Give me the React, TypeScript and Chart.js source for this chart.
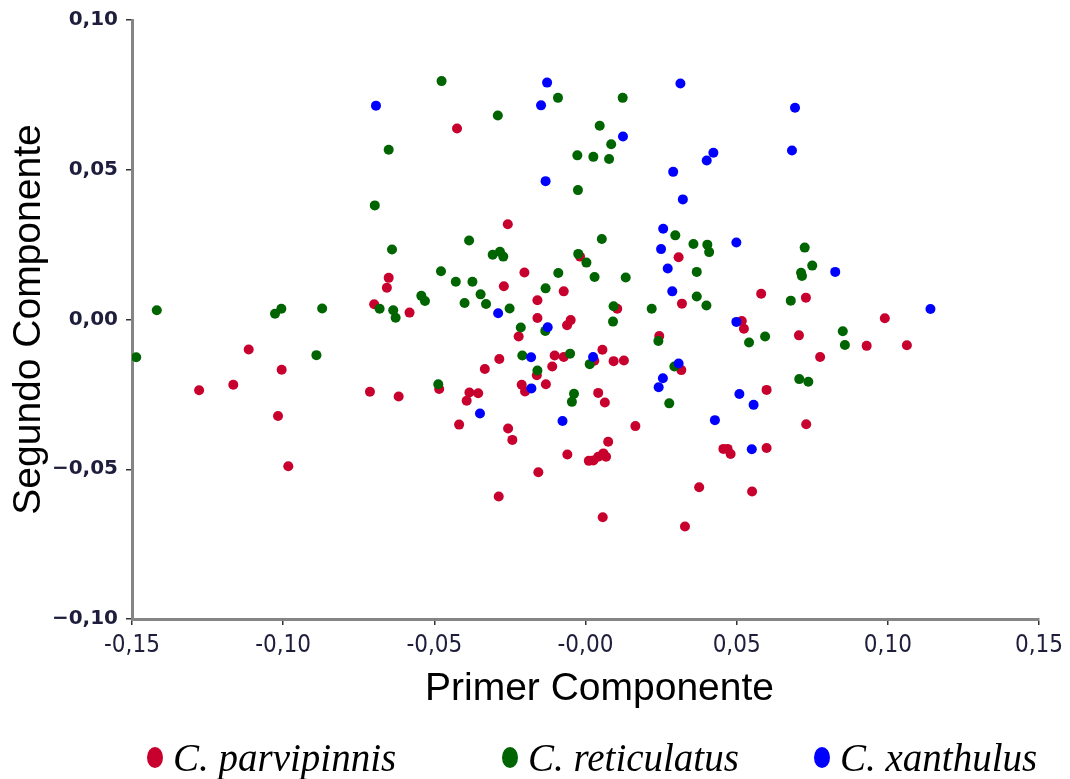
import React, { useEffect, useRef } from 'react';
import { Chart, registerables } from 'chart.js';

Chart.register(...registerables);

// Species shown in the PCA scatter
const seriesNames = ['C. parvipinnis', 'C. reticulatus', 'C. xanthulus'];
const seriesColors = ['#c8002d', '#006400', '#0000ff'];

// [Primer Componente, Segundo Componente] scores per specimen
const parvipinnis: [number, number][] = [
  [-0.0425, 0.0638], [-0.0257, 0.0318], [-0.0202, 0.0157], [-0.0651, 0.0139],
  [-0.0657, 0.0106], [-0.027, 0.0111], [-0.0072, 0.0094], [0.0308, 0.0208],
  [-0.0018, 0.021], [-0.0699, 0.0051], [-0.0582, 0.0023], [-0.0159, 0.0064],
  [0.0319, 0.0053], [0.0105, 0.0036], [0.0581, 0.0086], [0.0729, 0.0073],
  [0.099, 0.0004], [0.0517, -0.0005], [0.0524, -0.0031], [-0.0159, 0.0005],
  [-0.0049, -0.0002], [-0.0061, -0.0019], [-0.0221, -0.0057], [0.0244, -0.0055],
  [0.0706, -0.0053], [-0.1114, -0.01], [0.093, -0.0088], [0.1063, -0.0086],
  [0.0776, -0.0125], [0.0056, -0.0101], [-0.0285, -0.0132], [-0.0102, -0.012],
  [-0.0072, -0.0125], [0.0029, -0.0138], [0.0093, -0.0139], [0.0127, -0.0137],
  [-0.0333, -0.0165], [-0.011, -0.0157], [-0.0161, -0.0186], [0.0317, -0.0169],
  [-0.1005, -0.0168], [-0.0484, -0.0232], [-0.0211, -0.0218], [-0.02, -0.024],
  [-0.0131, -0.0216], [-0.0384, -0.0244], [-0.0393, -0.0271], [-0.0355, -0.0246],
  [0.0042, -0.0245], [0.0064, -0.0277], [-0.1278, -0.0236], [-0.1165, -0.0218],
  [-0.0713, -0.0241], [-0.0618, -0.0257], [0.0599, -0.0235], [-0.1017, -0.0322],
  [-0.0418, -0.0351], [-0.0256, -0.0364], [-0.0242, -0.0402], [0.0165, -0.0356],
  [0.073, -0.035], [0.0075, -0.0408], [-0.006, -0.0451], [0.0011, -0.0472],
  [0.0026, -0.0471], [0.0042, -0.0458], [0.0059, -0.0447], [0.0068, -0.0458],
  [-0.0156, -0.051], [-0.0287, -0.0591], [0.0057, -0.066], [0.0376, -0.056],
  [0.0329, -0.0691], [0.0456, -0.0432], [0.047, -0.0432], [0.048, -0.0449],
  [0.0599, -0.0429], [0.0551, -0.0574], [-0.0983, -0.049],
];

const reticulatus: [number, number][] = [
  [-0.0476, 0.0796], [-0.0091, 0.074], [0.0123, 0.074], [-0.029, 0.0681],
  [0.0047, 0.0647], [0.0085, 0.0585], [-0.0027, 0.0548], [0.0026, 0.0543],
  [0.0078, 0.0536], [-0.0025, 0.0432], [-0.0651, 0.0567], [-0.0697, 0.0381],
  [-0.064, 0.0234], [-0.0478, 0.0161], [-0.0385, 0.0264], [0.0054, 0.0269],
  [0.0297, 0.0281], [0.0357, 0.0252], [0.0403, 0.025], [0.0409, 0.0225],
  [-0.0307, 0.0216], [-0.0283, 0.0226], [-0.0272, 0.021], [-0.0024, 0.0219],
  [0.0003, 0.019], [0.0368, 0.0159], [-0.009, 0.0155], [-0.0429, 0.0126],
  [-0.0374, 0.0126], [0.003, 0.0142], [0.0133, 0.014], [-0.0132, 0.0104],
  [-0.0347, 0.0084], [-0.04, 0.0055], [-0.0329, 0.0052], [0.0368, 0.0077],
  [0.04, 0.0047], [-0.0251, 0.0037], [0.0093, 0.0044], [0.0219, 0.0036],
  [0.0091, -0.0007], [-0.0214, -0.0027], [-0.0133, -0.0038], [0.0241, -0.0072],
  [-0.0209, -0.012], [-0.0051, -0.0114], [0.0014, -0.0149], [-0.0159, -0.017],
  [0.0294, -0.0157], [-0.0487, -0.0216], [-0.0038, -0.0248], [-0.0045, -0.0275],
  [0.0277, -0.028], [-0.1418, 0.0031], [-0.1486, -0.0126], [-0.1027, 0.0019],
  [-0.1006, 0.0036], [-0.0871, 0.0037], [-0.089, -0.0119], [-0.0681, 0.0036],
  [-0.0636, 0.0031], [-0.0628, 0.0006], [-0.0543, 0.0079], [-0.0531, 0.0062],
  [0.0725, 0.024], [0.075, 0.018], [0.0713, 0.0156], [0.0716, 0.0145],
  [0.0679, 0.0063], [0.0541, -0.0077], [0.0594, -0.0057], [0.0851, -0.0039],
  [0.0858, -0.0085], [0.0707, -0.0199], [0.0737, -0.0208],
];

const xanthulus: [number, number][] = [
  [-0.0693, 0.0714], [-0.0127, 0.0791], [-0.0147, 0.0715], [0.0124, 0.0611],
  [0.0314, 0.0788], [0.0423, 0.0557], [0.0401, 0.0531], [0.029, 0.0493],
  [-0.0132, 0.0462], [0.0322, 0.0401], [0.0257, 0.0303], [0.0693, 0.0707],
  [0.0683, 0.0564], [0.0499, 0.0257], [0.025, 0.0235], [0.0272, 0.017],
  [0.0287, 0.0094], [0.0826, 0.0159], [0.1141, 0.0035], [-0.0289, 0.0021],
  [0.0499, -0.0008], [-0.0125, -0.0026], [-0.018, -0.0126], [0.0025, -0.0125],
  [0.0308, -0.0147], [-0.0179, -0.023], [0.0256, -0.0196], [0.0242, -0.0226],
  [0.0509, -0.0249], [0.0556, -0.0285], [-0.0349, -0.0314], [-0.0076, -0.0339],
  [0.0428, -0.0336], [0.055, -0.0433],
];

const xTickLabels = ['-0,15', '-0,10', '-0,05', '-0,00', '0,05', '0,10', '0,15'];
const yTickLabels = ['\u22120,10', '\u22120,05', '0,00', '0,05', '0,10'];
const xTitle = 'Primer Componente';
const yTitle = 'Segundo Componente';

// left edge of each legend entry
const legendLefts = [147, 502, 814];

const tickColor = '#1e1e3c';

// x-axis caption, drawn a little right of the plot centre
const xTitlePlugin = {
  id: 'xTitleCaption',
  afterDraw(chart: any) {
    const { ctx, chartArea } = chart;
    ctx.save();
    ctx.font = '39px "Liberation Sans"';
    ctx.fillStyle = '#000';
    ctx.textAlign = 'center';
    ctx.textBaseline = 'middle';
    ctx.fillText(xTitle, (chartArea.left + chartArea.right) / 2 + 14, chartArea.bottom + 70.5);
    ctx.restore();
  },
};

export default function App() {
  const canvasRef = useRef<HTMLCanvasElement>(null);

  useEffect(() => {
    document.body.style.margin = '0';
    const series = [parvipinnis, reticulatus, xanthulus];
    const chart = new Chart(canvasRef.current as HTMLCanvasElement, {
      type: 'scatter',
      data: {
        datasets: series.map((pts, i) => ({
          label: seriesNames[i],
          data: pts.map(([x, y]) => ({ x, y })),
          backgroundColor: seriesColors[i],
          borderWidth: 0,
          pointRadius: 5,
          order: series.length - i,
        })),
      },
      plugins: [xTitlePlugin],
      options: {
        animation: false,
        responsive: false,
        events: [],
        layout: { padding: { top: 18, right: 31, bottom: 60, left: 0 } },
        plugins: { legend: { display: false }, tooltip: { enabled: false } },
        scales: {
          x: {
            type: 'linear',
            min: -0.15,
            max: 0.15,
            ticks: {
              stepSize: 0.05,
              autoSkip: false,
              maxRotation: 0,
              padding: 6,
              color: tickColor,
              font: { family: 'DejaVu Sans Condensed', size: 24 },
              callback: (_v: any, i: number) => xTickLabels[i],
            },
            grid: { drawOnChartArea: false, drawTicks: true, tickLength: 6, color: '#333', lineWidth: 1.5 },
            border: { display: true, color: '#858585', width: 3 },
            title: { display: false },
            afterFit: (scale: any) => { scale.height = 100; },
          },
          y: {
            type: 'linear',
            min: -0.1,
            max: 0.1,
            ticks: {
              stepSize: 0.05,
              autoSkip: false,
              padding: 8,
              color: tickColor,
              font: { family: 'DejaVu Sans', size: 20, weight: 'bold' },
              callback: (_v: any, i: number) => yTickLabels[i],
            },
            grid: { drawOnChartArea: false, drawTicks: true, tickLength: 6, color: '#333', lineWidth: 1.5 },
            border: { display: true, color: '#858585', width: 3 },
            title: {
              display: true,
              text: yTitle,
              color: '#000',
              font: { family: 'Liberation Sans', size: 39, lineHeight: 1 },
              padding: { top: 10, bottom: 0 },
            },
            afterFit: (scale: any) => { scale.width = 132; },
          },
        },
      } as any,
    });
    return () => chart.destroy();
  }, []);

  return (
    <div style={{ position: 'relative', width: 1070, height: 779, background: '#fff', overflow: 'hidden' }}>
      <canvas ref={canvasRef} width={1070} height={779} style={{ display: 'block' }} />
      {seriesNames.map((name, i) => (
        <div
          key={name}
          style={{
            position: 'absolute',
            left: legendLefts[i],
            top: 738,
            height: 39,
            display: 'flex',
            alignItems: 'center',
            fontFamily: '"Liberation Serif", serif',
            fontStyle: 'italic',
            fontSize: 39,
            lineHeight: '39px',
            color: '#000',
            whiteSpace: 'nowrap',
          }}
        >
          <span
            style={{
              display: 'inline-block',
              width: 16,
              height: 21,
              borderRadius: '50%',
              background: seriesColors[i],
              marginRight: 10,
            }}
          />
          <span>{name}</span>
        </div>
      ))}
    </div>
  );
}
